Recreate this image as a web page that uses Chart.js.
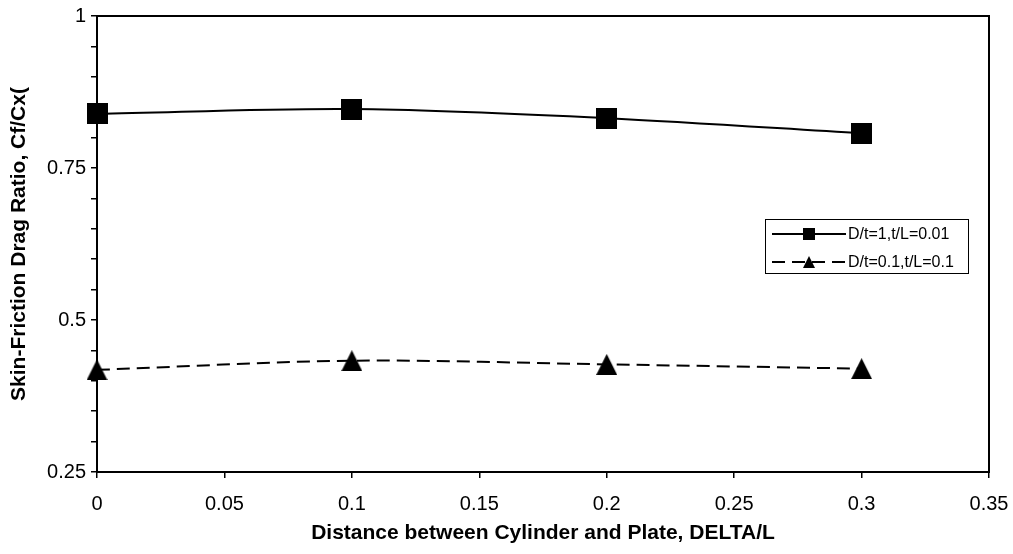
<!DOCTYPE html>
<html>
<head>
<meta charset="utf-8">
<script src="https://cdn.jsdelivr.net/npm/chart.js@4.4.0/dist/chart.umd.min.js"></script>
<style>
  html, body { margin: 0; padding: 0; background: #ffffff; }
  #wrap { width: 1013px; height: 554px; }
</style>
</head>
<body>
<div id="wrap"><canvas id="chart" width="1013" height="554"></canvas></div>
<script>
// Gap between cylinder and plate (DELTA/L)
const distance = [0, 0.1, 0.2, 0.3];
// Skin-friction drag ratio for each configuration
const ratioThick = [0.839, 0.847, 0.832, 0.807];   // D/t=1, t/L=0.01
const ratioThin  = [0.418, 0.433, 0.427, 0.420];   // D/t=0.1, t/L=0.1
const seriesNames = ['D/t=1,t/L=0.01', 'D/t=0.1,t/L=0.1'];

// Axis ticks
const xTickValues = [0, 0.05, 0.1, 0.15, 0.2, 0.25, 0.3, 0.35];
const yTickValues = [0.25, 0.3, 0.35, 0.4, 0.45, 0.5, 0.55, 0.6, 0.65, 0.7, 0.75, 0.8, 0.85, 0.9, 0.95, 1];
const yTickLabels = ['0.25', '0.5', '0.75', '1'];

const xTitle = 'Distance between Cylinder and Plate, DELTA/L';
const yTitle = 'Skin-Friction Drag Ratio, Cf/Cx(';

const FONT = "'Liberation Sans', Arial, sans-serif";

// Solid black marker glyphs
function makeMarker(shape, w, h) {
  const c = document.createElement('canvas');
  c.width = w; c.height = h;
  const g = c.getContext('2d');
  g.fillStyle = '#000';
  if (shape === 'square') {
    g.fillRect(0, 0, w, h);
  } else {
    g.beginPath();
    g.moveTo(w / 2, 0);
    g.lineTo(w, h);
    g.lineTo(0, h);
    g.closePath();
    g.fill();
  }
  return c;
}
const squareMark = makeMarker('square', 21, 21);
const triangleMark = makeMarker('triangle', 21, 21);
const squareSmall = makeMarker('square', 12, 12);
const triangleSmall = makeMarker('triangle', 12, 12);

const toPoints = (xs, ys) => xs.map((x, i) => ({ x: x, y: ys[i] }));

// Plot frame on all four sides
const framePlugin = {
  id: 'frame',
  beforeDatasetsDraw(chart) {
    const { ctx, chartArea: a } = chart;
    ctx.save();
    ctx.strokeStyle = '#000';
    ctx.lineWidth = 2;
    ctx.strokeRect(a.left, a.top, a.right - a.left, a.bottom - a.top);
    ctx.restore();
  }
};

// Boxed legend with line samples
const boxLegend = {
  id: 'boxLegend',
  afterDraw(chart, args, opts) {
    const { ctx } = chart;
    const x = opts.x, y = opts.y, w = opts.width, h = opts.height;
    ctx.save();
    ctx.fillStyle = '#fff';
    ctx.fillRect(x, y, w, h);
    ctx.strokeStyle = '#000';
    ctx.lineWidth = 1;
    ctx.strokeRect(x + 0.5, y + 0.5, w, h);
    chart.data.datasets.forEach((ds, i) => {
      const ry = opts.rows[i];
      ctx.beginPath();
      ctx.setLineDash(ds.borderDash || []);
      ctx.lineWidth = ds.borderWidth;
      ctx.strokeStyle = '#000';
      ctx.moveTo(opts.lineStart, ry);
      ctx.lineTo(opts.lineEnd, ry);
      ctx.stroke();
      ctx.setLineDash([]);
      const m = opts.markers[i];
      const mx = (opts.lineStart + opts.lineEnd) / 2;
      ctx.drawImage(m, Math.round(mx - m.width / 2), Math.round(ry - m.height / 2));
      ctx.fillStyle = '#000';
      ctx.font = opts.font;
      ctx.textBaseline = 'middle';
      ctx.textAlign = 'left';
      ctx.fillText(ds.label, opts.textX, ry + 1);
    });
    ctx.restore();
  }
};

new Chart(document.getElementById('chart'), {
  type: 'line',
  data: {
    datasets: [
      {
        label: seriesNames[0],
        data: toPoints(distance, ratioThick),
        borderColor: '#000',
        borderWidth: 2,
        tension: 0.33,
        pointStyle: squareMark,
        pointRadius: 11,
        clip: false
      },
      {
        label: seriesNames[1],
        data: toPoints(distance, ratioThin),
        borderColor: '#000',
        borderWidth: 2,
        borderDash: [13, 7],
        tension: 0.33,
        pointStyle: triangleMark,
        pointRadius: 11,
        clip: false
      }
    ]
  },
  options: {
    responsive: false,
    animation: false,
    devicePixelRatio: 1,
    layout: { padding: { top: 16, right: 24, left: 0, bottom: 0 } },
    plugins: {
      legend: { display: false },
      tooltip: { enabled: false },
      boxLegend: {
        x: 765, y: 219, width: 203, height: 54,
        rows: [234, 262],
        lineStart: 772, lineEnd: 846,
        textX: 848,
        font: '16px ' + FONT,
        markers: [squareSmall, triangleSmall]
      }
    },
    scales: {
      x: {
        type: 'linear',
        min: 0, max: 0.35,
        afterBuildTicks: s => { s.ticks = xTickValues.map(v => ({ value: v })); },
        afterFit: s => { s.height = 82; s.paddingLeft = 0; s.paddingRight = 0; },
        border: { display: false },
        grid: { drawOnChartArea: false, drawTicks: true, tickLength: 6, color: '#000', lineWidth: 1.5 },
        ticks: {
          color: '#000',
          font: { family: FONT, size: 20 },
          padding: 14,
          maxRotation: 0,
          autoSkip: false,
          callback: v => String(parseFloat(Number(v).toFixed(2)))
        },
        title: {
          display: true,
          text: xTitle,
          color: '#000',
          font: { family: FONT, size: 21, weight: 'bold' },
          padding: { top: 0, bottom: 8 }
        }
      },
      y: {
        type: 'linear',
        min: 0.25, max: 1,
        afterBuildTicks: s => { s.ticks = yTickValues.map(v => ({ value: v })); },
        afterFit: s => { s.width = 97; s.paddingTop = 0; s.paddingBottom = 0; },
        border: { display: false },
        grid: { drawOnChartArea: false, drawTicks: true, tickLength: 6, color: '#000', lineWidth: 1.5 },
        ticks: {
          color: '#000',
          font: { family: FONT, size: 20 },
          padding: 5,
          autoSkip: false,
          callback: v => {
            const s = String(parseFloat(Number(v).toFixed(2)));
            return yTickLabels.includes(s) ? s : '';
          }
        },
        title: {
          display: true,
          text: yTitle,
          color: '#000',
          font: { family: FONT, size: 21, weight: 'bold' },
          padding: { top: 7, bottom: 0 }
        }
      }
    }
  },
  plugins: [framePlugin, boxLegend]
});
</script>
</body>
</html>
